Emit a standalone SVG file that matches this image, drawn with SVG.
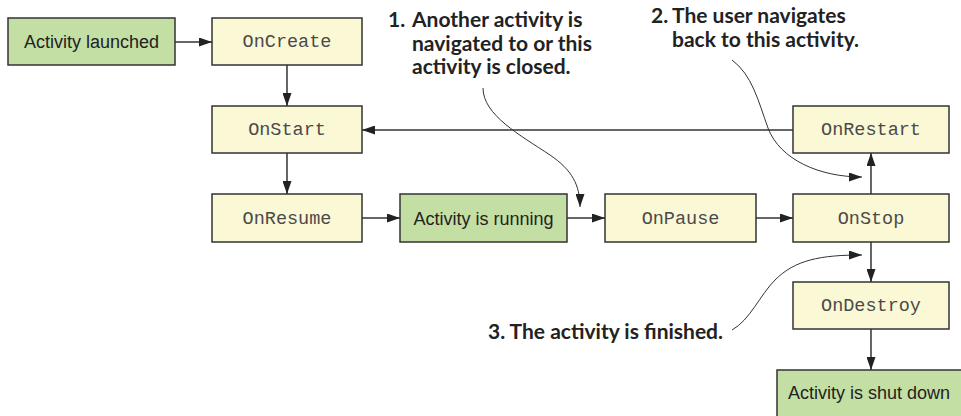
<svg xmlns="http://www.w3.org/2000/svg" width="961" height="416" viewBox="0 0 961 416">
<defs>
<marker id="ah" markerUnits="userSpaceOnUse" markerWidth="13" markerHeight="9" refX="13" refY="4.5" orient="auto">
<path d="M0,0 L13,4.5 L0,9 z" fill="#222"/>
</marker>
<style>
.g{fill:#c4dfa4;stroke:#333;stroke-width:1.5}
.y{fill:#fbf8d6;stroke:#333;stroke-width:1.5}
.lbl{font-family:"Liberation Sans",Arial,sans-serif;font-size:18px;fill:#222}
.mono{font-family:"Liberation Mono","Courier New",monospace;font-size:18.5px;fill:#4a4a4a;text-anchor:middle}
.ann{font-family:Lato,"Open Sans",sans-serif;font-weight:bold;font-size:21px;fill:#222}
.c{fill:none;stroke:#333;stroke-width:1.5;marker-end:url(#ah)}
.cv{fill:none;stroke:#333;stroke-width:1;marker-end:url(#ah)}
</style>
</defs>
<rect width="961" height="416" fill="#fff"/>
<g id="connectors">
<line class="c" x1="175" y1="42" x2="212" y2="42"/>
<line class="c" x1="287" y1="65" x2="287" y2="106"/>
<line class="c" x1="287" y1="153" x2="287" y2="194"/>
<line class="c" x1="362" y1="218" x2="400" y2="218"/>
<line class="c" x1="567" y1="218" x2="605" y2="218"/>
<line class="c" x1="756" y1="218" x2="793" y2="218"/>
<line class="c" x1="871" y1="194" x2="871" y2="153"/>
<line class="c" x1="793" y1="130" x2="362" y2="130"/>
<line class="c" x1="871" y1="242" x2="871" y2="282"/>
<line class="c" x1="871" y1="329" x2="871" y2="370"/>
<path class="cv" d="M483,88 C483,115 520,135 550,155 C572,170 580,185 580,207"/>
<path class="cv" d="M732,60 C752,75 758,100 768,128 C780,160 820,177 862,177"/>
<path class="cv" d="M732,330 C750,320 760,295 775,280 C795,260 820,255 862,255"/>
</g>
<g id="activity-launched"><rect class="g" x="8" y="18" width="167" height="47"/><text class="lbl" x="91.5" y="48" text-anchor="middle">Activity launched</text></g>
<g id="oncreate"><rect class="y" x="212" y="18" width="150" height="47"/><text class="mono" x="287" y="47">OnCreate</text></g>
<g id="onstart"><rect class="y" x="212" y="106" width="150" height="47"/><text class="mono" x="287" y="135">OnStart</text></g>
<g id="onresume"><rect class="y" x="212" y="194" width="150" height="48"/><text class="mono" x="287" y="223.5">OnResume</text></g>
<g id="activity-running"><rect class="g" x="400" y="194" width="167" height="48"/><text class="lbl" x="483.5" y="224.5" text-anchor="middle">Activity is running</text></g>
<g id="onpause"><rect class="y" x="605" y="194" width="151" height="48"/><text class="mono" x="680.5" y="223.5">OnPause</text></g>
<g id="onstop"><rect class="y" x="793" y="194" width="156" height="48"/><text class="mono" x="871" y="223.5">OnStop</text></g>
<g id="onrestart"><rect class="y" x="793" y="106" width="156" height="47"/><text class="mono" x="871" y="135">OnRestart</text></g>
<g id="ondestroy"><rect class="y" x="793" y="282" width="156" height="47"/><text class="mono" x="871" y="311">OnDestroy</text></g>
<g id="activity-shut-down"><rect class="g" x="777" y="370" width="200" height="60"/><text class="lbl" x="788" y="399">Activity is shut down</text></g>
<g id="note-1">
<text class="ann"><tspan x="388" y="27">1.</tspan><tspan x="412" y="27">Another activity is</tspan><tspan x="412" y="51">navigated to or this</tspan><tspan x="412" y="74">activity is closed.</tspan></text>
</g>
<g id="note-2">
<text class="ann"><tspan x="651" y="23">2.</tspan><tspan x="672" y="23">The user navigates</tspan><tspan x="672" y="47">back to this activity.</tspan></text>
</g>
<g id="note-3">
<text class="ann" x="723" y="339" text-anchor="end">3. The activity is finished.</text>
</g>
</svg>
